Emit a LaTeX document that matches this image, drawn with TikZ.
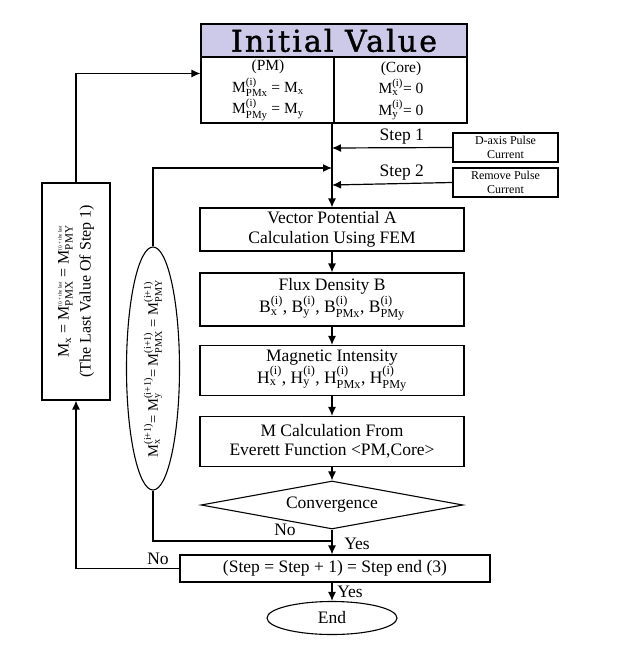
\documentclass[tikz,border=0pt]{standalone}
\usepackage{fontspec}
\usepackage{amsmath}
\setmainfont{Liberation Serif}
\newfontfamily\titlefont[LetterSpace=7,FakeBold=1.3]{DejaVu Serif}
\usetikzlibrary{shapes.geometric,arrows.meta}

\definecolor{initfill}{RGB}{204,202,232}
\newcommand{\bodyfont}{\fontsize{17.5}{19.5}\selectfont}
\newcommand{\pulsefont}{\fontsize{12}{14}\selectfont}
\newcommand{\supsub}[3]{#1$^{\text{#2}}_{\text{#3}}$}

\tikzset{
	box/.style={draw, line width=1.1pt, minimum width=264, align=center, inner sep=1pt, font=\bodyfont},
	pulsebox/.style={draw, line width=1.1pt, minimum width=105, minimum height=29, align=center, inner sep=1pt, font=\pulsefont},
	arr/.style={-{Latex[length=9pt,width=8pt]}, line width=1.2pt},
	conn/.style={line width=1.2pt},
	lbl/.style={font=\bodyfont, inner sep=1pt}
}

\begin{document}
\begin{tikzpicture}[x=1pt,y=-1pt]
			\useasboundingbox (0,0) rectangle (630,647);
			% initial value
			\node[box, minimum width=266, minimum height=99] (init) at (334,73.5) {};
			\node[draw, line width=1.1pt, fill=initfill, minimum width=266, minimum height=33, anchor=north, font=\titlefont\fontsize{30}{32}\selectfont, inner sep=0pt] (title) at (init.north) {Initial Value};
			\draw[conn] (title.south) -- (init.south);
			\node[lbl, align=center, font=\fontsize{15.5}{21.5}\selectfont] (pm) at (268,90.5) {(PM)\\\supsub{M}{(i)}{PMx} = M$_{\text{x}}$\\\supsub{M}{(i)}{PMy} = M$_{\text{y}}$};
			\node[lbl, align=center, font=\fontsize{15.5}{21.5}\selectfont] (core) at (401,90.5) {(Core)\\\supsub{M}{(i)}{x}= 0\\\supsub{M}{(i)}{y}= 0};
			% pulse boxes
			\node[pulsebox] (dax) at (505.5,147.5) {D-axis Pulse\\Current};
			\node[pulsebox] (rem) at (505.5,182.5) {Remove Pulse\\Current};
			% main column
			\node[box, minimum height=43] (vec) at (332,229.5) {Vector Potential A\\Calculation Using FEM};
			\node[box, minimum height=53] (flux) at (332,299.5) {Flux Density B\\\supsub{B}{(i)}{x}, \supsub{B}{(i)}{y}, \supsub{B}{(i)}{PMx}, \supsub{B}{(i)}{PMy}};
			\node[box, minimum height=50] (mag) at (332,370.5) {Magnetic Intensity\\\supsub{H}{(i)}{x}, \supsub{H}{(i)}{y}, \supsub{H}{(i)}{PMx}, \supsub{H}{(i)}{PMy}};
			\node[box, minimum height=50] (mcal) at (332,441.5) {M Calculation From\\Everett Function <PM,Core>};
			\node[draw, diamond, line width=1.1pt, shape aspect=5.4, minimum width=262, minimum height=48, inner sep=0pt, font=\bodyfont] (conv) at (332,505) {Convergence};
			\node[box, minimum width=310, minimum height=27] (stepbox) at (335,568.5) {(Step = Step + 1) = Step end (3)};
			\node[draw, ellipse, line width=1.1pt, minimum width=130, minimum height=33, inner sep=0pt, font=\bodyfont] (end) at (332,618) {End};
			% side nodes
			\node[draw, line width=1.1pt, minimum width=68, minimum height=217] (lbox) at (76,291.5) {};
			\node[rotate=90, align=center, font=\fontsize{16}{22}\selectfont] at (lbox) {M$_{\text{x}}$ = \supsub{M}{\tiny(i) + the last}{PMX} = \supsub{M}{\tiny(i) + the last}{PMY}\\(The Last Value Of Step 1)};
			\node[draw, ellipse, line width=1.1pt, minimum width=53, minimum height=243, inner sep=0pt] (upd) at (153,368.5) {};
			\node[rotate=90, font=\fontsize{14.5}{17}\selectfont] at (upd) {\supsub{M}{(i+1)}{x}= \supsub{M}{(i+1)}{y}= \supsub{M}{(i+1)}{PMX} = \supsub{M}{(i+1)}{PMY}};
			% junctions on the main line
			\coordinate (j1) at (332,148);
			\coordinate (j0) at (332,168);
			\coordinate (j2) at (332,185);
			\coordinate (jn) at (332,541);
			% connectors
			\draw[arr] (init.south -| vec.north) -- (vec.north);
			\draw[arr] (dax.west) -- (j1) node[lbl, pos=0.42, above=2pt] {Step 1};
			\draw[arr] (rem.west) -- (j2) node[lbl, pos=0.42, above=2pt] {Step 2};
			\draw[arr] (upd.north) |- (j0);
			\draw[arr] (vec) -- (flux);
			\draw[arr] (flux) -- (mag);
			\draw[arr] (mag) -- (mcal);
			\draw[arr] (mcal) -- (conv);
			\draw[conn] (upd.south) |- (jn);
			\draw[arr] (conv.south) -- (conv.south |- stepbox.north);
			\draw[arr] (stepbox.west) -| (lbox.south);
			\draw[arr] (lbox.north) |- (init.west);
			\draw[arr] (stepbox.south -| end.north) -- (end.north);
			% labels
			\node[lbl] at (285,530) {No};
			\node[lbl] at (357,544) {Yes};
			\node[lbl] at (158,559) {No};
			\node[lbl] at (350,592) {Yes};
		\end{tikzpicture}
\end{document}
